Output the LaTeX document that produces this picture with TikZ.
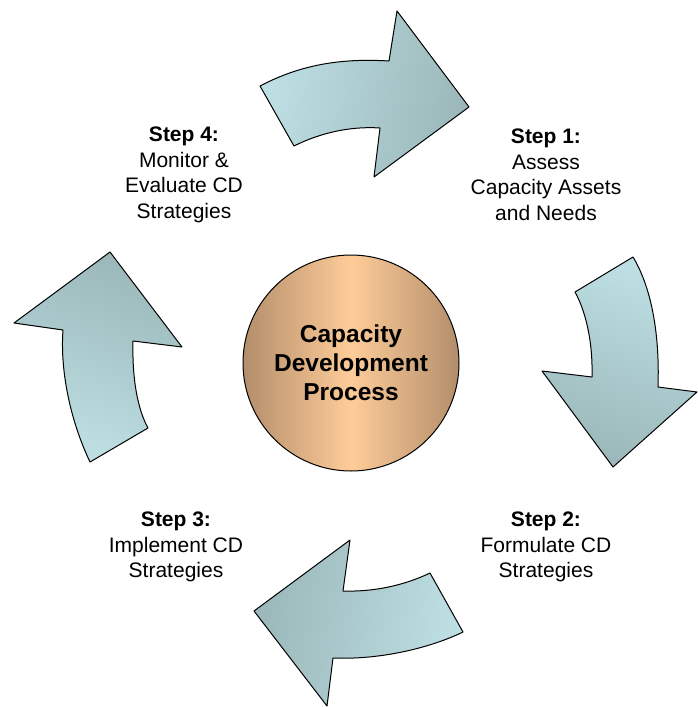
\documentclass[tikz,border=0pt]{standalone}
\usepackage{fontspec}
\setmainfont{Liberation Sans}
\usepackage{tikz}

\definecolor{cyclight}{HTML}{BEE0E4}
\definecolor{cycdark}{HTML}{9BB7B9}
\definecolor{corerim}{HTML}{B38E6B}
\definecolor{coremid}{HTML}{FECC98}

\begin{document}
\begin{tikzpicture}[x=1pt,y=-1pt,
    cyc/.style={draw=black,line width=1pt,line join=round,top color=cyclight,bottom color=cycdark},
    steplabel/.style={align=center,font=\fontsize{21}{25.5}\selectfont,inner sep=0pt}]
    \useasboundingbox (0,0) rectangle (697,707);

    % arrow 4 -> 1 (top)
    \draw[cyc,shading angle=80] (260,86) .. controls (300,65) and (340,58) .. (389,61)
        -- (397,11) -- (469,107) -- (374,177) -- (380,128)
        .. controls (350,126) and (320,133) .. (294,146) -- cycle;
    % arrow 1 -> 2 (right)
    \draw[cyc,shading angle=-20] (633,257) .. controls (650,285) and (660,330) .. (658,387)
        -- (697,392) -- (613,467) -- (542,371) -- (592,377)
        .. controls (593,340) and (585,310) .. (575,292) -- cycle;
    % arrow 2 -> 3 (bottom)
    \draw[cyc,shading angle=-100] (430,573) .. controls (405,585) and (375,592) .. (343,591)
        -- (350,540) -- (254,611) -- (327,706) -- (333,658)
        .. controls (380,660) and (430,648) .. (463,632) -- cycle;
    % arrow 3 -> 4 (left)
    \draw[cyc,shading angle=160] (90,462) .. controls (70,420) and (60,370) .. (63,330)
        -- (14,323) -- (110,252) -- (182,347) -- (133,341)
        .. controls (132,380) and (138,410) .. (148,428) -- cycle;

    % centre disc
    \node[circle,draw=black,line width=1pt,minimum size=216pt,
        left color=corerim,right color=corerim,middle color=coremid,
        align=center,font=\fontsize{24.5}{29}\selectfont\bfseries] (core) at (351,363)
        {Capacity\\Development\\Process};

    \node[steplabel] (s1) at (546,175) {\textbf{Step 1:}\\Assess\\Capacity Assets\\and Needs};
    \node[steplabel] (s2) at (546,547) {\textbf{Step 2:}\\Formulate CD\\Strategies};
    \node[steplabel] (s3) at (176,547) {\textbf{Step 3:}\\Implement CD\\Strategies};
    \node[steplabel] (s4) at (184,175) {\textbf{Step 4:}\\Monitor \&\\Evaluate CD\\Strategies};
\end{tikzpicture}
\end{document}
